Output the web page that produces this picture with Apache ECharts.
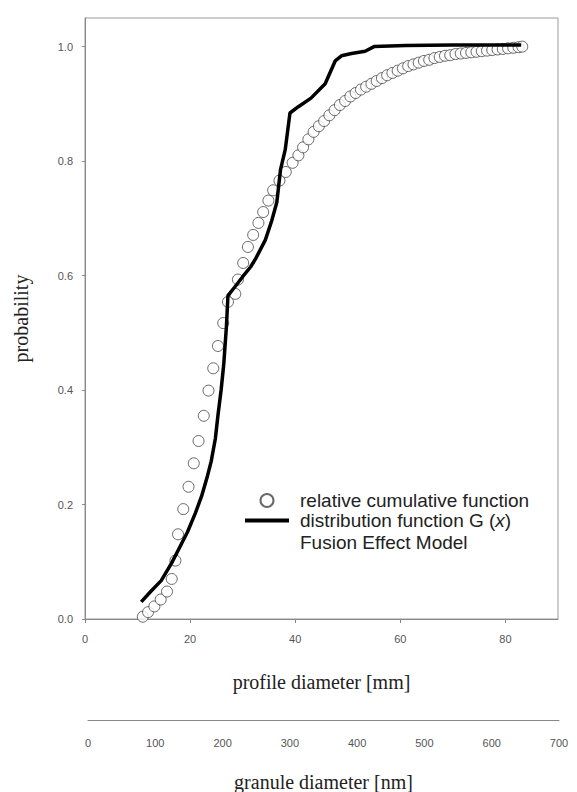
<!DOCTYPE html>
<html>
<head>
<meta charset="utf-8">
<title>probability</title>
<script src="https://cdn.jsdelivr.net/npm/echarts@6/dist/echarts.min.js"></script>
<style>
html, body { margin: 0; padding: 0; background: #fff; }
#chart { width: 577px; height: 792px; }
</style>
</head>
<body>
<div id="chart"></div>
<script>
// relative cumulative function (open circles)
const cumX = [11.0, 12.0, 13.2, 14.4, 15.6, 16.5, 17.2, 17.7, 18.7, 19.7, 20.7, 21.6, 22.6, 23.5, 24.4, 25.3, 26.3, 27.2, 28.6, 29.1,
	30.1, 31.0, 32.0, 33.0, 33.9, 34.9, 35.8, 37.0, 38.2, 39.5, 40.6, 41.5, 42.5, 43.5, 44.5, 45.5, 46.5, 47.5, 48.5, 49.5,
	50.5, 51.5, 52.5, 53.5, 54.5, 55.5, 56.5, 57.5, 58.5, 59.5, 60.5, 61.5, 62.5, 63.5, 64.5, 65.5, 66.5, 67.5, 68.5, 69.5,
	70.5, 71.5, 72.5, 73.5, 74.5, 75.5, 76.5, 77.5, 78.5, 79.5, 80.5, 81.5, 82.5, 83.2];
const cumY = [0.004, 0.012, 0.022, 0.034, 0.048, 0.070, 0.102, 0.148, 0.192, 0.231, 0.272, 0.311, 0.355, 0.399, 0.438, 0.477, 0.517, 0.554, 0.568, 0.593,
	0.622, 0.650, 0.671, 0.692, 0.711, 0.731, 0.749, 0.766, 0.781, 0.797, 0.810, 0.824, 0.838, 0.851, 0.861, 0.870, 0.880, 0.889, 0.898, 0.905,
	0.913, 0.919, 0.925, 0.930, 0.935, 0.940, 0.945, 0.950, 0.954, 0.958, 0.962, 0.966, 0.969, 0.972, 0.975, 0.977, 0.980, 0.982, 0.984, 0.985,
	0.987, 0.988, 0.989, 0.990, 0.991, 0.992, 0.993, 0.994, 0.995, 0.996, 0.997, 0.998, 0.999, 1.000];

// distribution function G(x) - Fusion Effect Model
const gX = [10.7, 12.5, 14.5, 16.5, 18.0, 19.5, 21.0, 22.2, 23.3, 24.0, 24.8, 25.3, 25.9, 26.4, 26.9, 27.2, 28.5, 30.0, 31.5, 32.5,
	34.3, 35.5, 36.5, 37.2, 38.1, 39.0, 40.6, 43.0, 45.7, 47.6, 48.8, 50.7, 53.3, 55.0, 61.0, 70.0, 83.0];
const gY = [0.030, 0.048, 0.067, 0.098, 0.125, 0.152, 0.185, 0.215, 0.250, 0.275, 0.315, 0.356, 0.400, 0.445, 0.510, 0.565, 0.580, 0.598, 0.615, 0.630,
	0.662, 0.695, 0.728, 0.785, 0.820, 0.884, 0.895, 0.910, 0.935, 0.975, 0.984, 0.988, 0.992, 1.000, 1.002, 1.003, 1.003];

// tick labels
const mmTicks = [0, 20, 40, 60, 80];
const nmTicks = [0, 100, 200, 300, 400, 500, 600, 700];
const probTicks = [0, 0.2, 0.4, 0.6, 0.8, 1.0];

const chart = echarts.init(document.getElementById("chart"), null, { renderer: "svg" });

const tickFont = { color: "#555", fontSize: 11, fontFamily: "Liberation Sans, Arial, sans-serif" };
const titleFont = { color: "#222", fontSize: 20, fontFamily: "Liberation Serif, Times New Roman, serif" };
const legendFont = "Liberation Sans, Arial, sans-serif";

const option = {
	animation: false,
	backgroundColor: "#fff",
	grid: [
		{ left: 85, right: 19, top: 18, bottom: 173, show: true, borderColor: "#999", borderWidth: 1 },
		// second scale for granule diameter
		{ left: 88, right: 18, top: 720, height: 1 }
	],
	xAxis: [
		{
			type: "value",
			gridIndex: 0,
			min: 0,
			max: 90,
			interval: 20,
			name: "profile diameter [mm]",
			nameLocation: "middle",
			nameGap: 53,
			nameTextStyle: titleFont,
			splitLine: { show: false },
			axisLine: { lineStyle: { color: "#888" } },
			axisTick: { length: 4, lineStyle: { color: "#888" } },
			axisLabel: {
				...tickFont,
				margin: 14,
				showMaxLabel: false,
				formatter: (v) => (mmTicks.includes(v) ? String(v) : "")
			}
		},
		{
			type: "value",
			gridIndex: 1,
			min: 0,
			max: 700,
			interval: 100,
			position: "bottom",
			name: "granule diameter [nm]",
			nameLocation: "middle",
			nameGap: 52,
			nameTextStyle: titleFont,
			splitLine: { show: false },
			axisLine: { lineStyle: { color: "#888" } },
			axisTick: { show: false },
			axisLabel: {
				...tickFont,
				margin: 17,
				formatter: (v) => (nmTicks.includes(v) ? String(v) : "")
			}
		}
	],
	yAxis: [
		{
			type: "value",
			gridIndex: 0,
			min: 0,
			max: 1.05,
			interval: 0.2,
			name: "probability",
			nameLocation: "middle",
			nameGap: 54,
			nameTextStyle: titleFont,
			splitLine: { show: false },
			axisLine: { lineStyle: { color: "#888" } },
			axisTick: { length: 3, lineStyle: { color: "#888" } },
			axisLabel: {
				...tickFont,
				margin: 12,
				showMaxLabel: false,
				formatter: (v) => (probTicks.some((t) => Math.abs(t - v) < 1e-6) ? v.toFixed(1) : "")
			}
		},
		{ type: "value", gridIndex: 1, show: false, min: 0, max: 1 }
	],
	legend: {
		orient: "vertical",
		left: 245,
		top: 491,
		padding: 0,
		itemWidth: 44,
		itemHeight: 13,
		itemGap: 1,
		selectedMode: false,
		textStyle: {
			color: "#222",
			fontSize: 19,
			fontFamily: legendFont,
			padding: [0, 0, 0, 6],
			rich: {
				i: { fontStyle: "italic", fontSize: 19, fontFamily: legendFont, color: "#222" }
			}
		},
		formatter: (name) => (name === "distribution function G (x)" ? "distribution function G ({i|x})" : name),
		data: [
			{ name: "relative cumulative function", icon: "circle" },
			// plain thick bar, no marker in the middle
			{ name: "distribution function G (x)", icon: "path://M0 0H44V4H0Z" }
		]
	},
	graphic: [
		{
			type: "text",
			left: 300,
			top: 533,
			style: { text: "Fusion Effect Model", fontSize: 19, fontFamily: legendFont, fill: "#222" }
		}
	],
	series: [
		{
			name: "relative cumulative function",
			type: "scatter",
			xAxisIndex: 0,
			yAxisIndex: 0,
			symbol: "circle",
			symbolSize: 11,
			itemStyle: { color: "#fff", borderColor: "#444", borderWidth: 1 },
			data: cumX.map((x, i) => [x, cumY[i]])
		},
		{
			name: "distribution function G (x)",
			type: "line",
			xAxisIndex: 0,
			yAxisIndex: 0,
			showSymbol: false,
			symbol: "none",
			lineStyle: { color: "#000", width: 3.5 },
			itemStyle: { color: "#000" },
			data: gX.map((x, i) => [x, gY[i]])
		}
	]
};

chart.setOption(option);
</script>
</body>
</html>
